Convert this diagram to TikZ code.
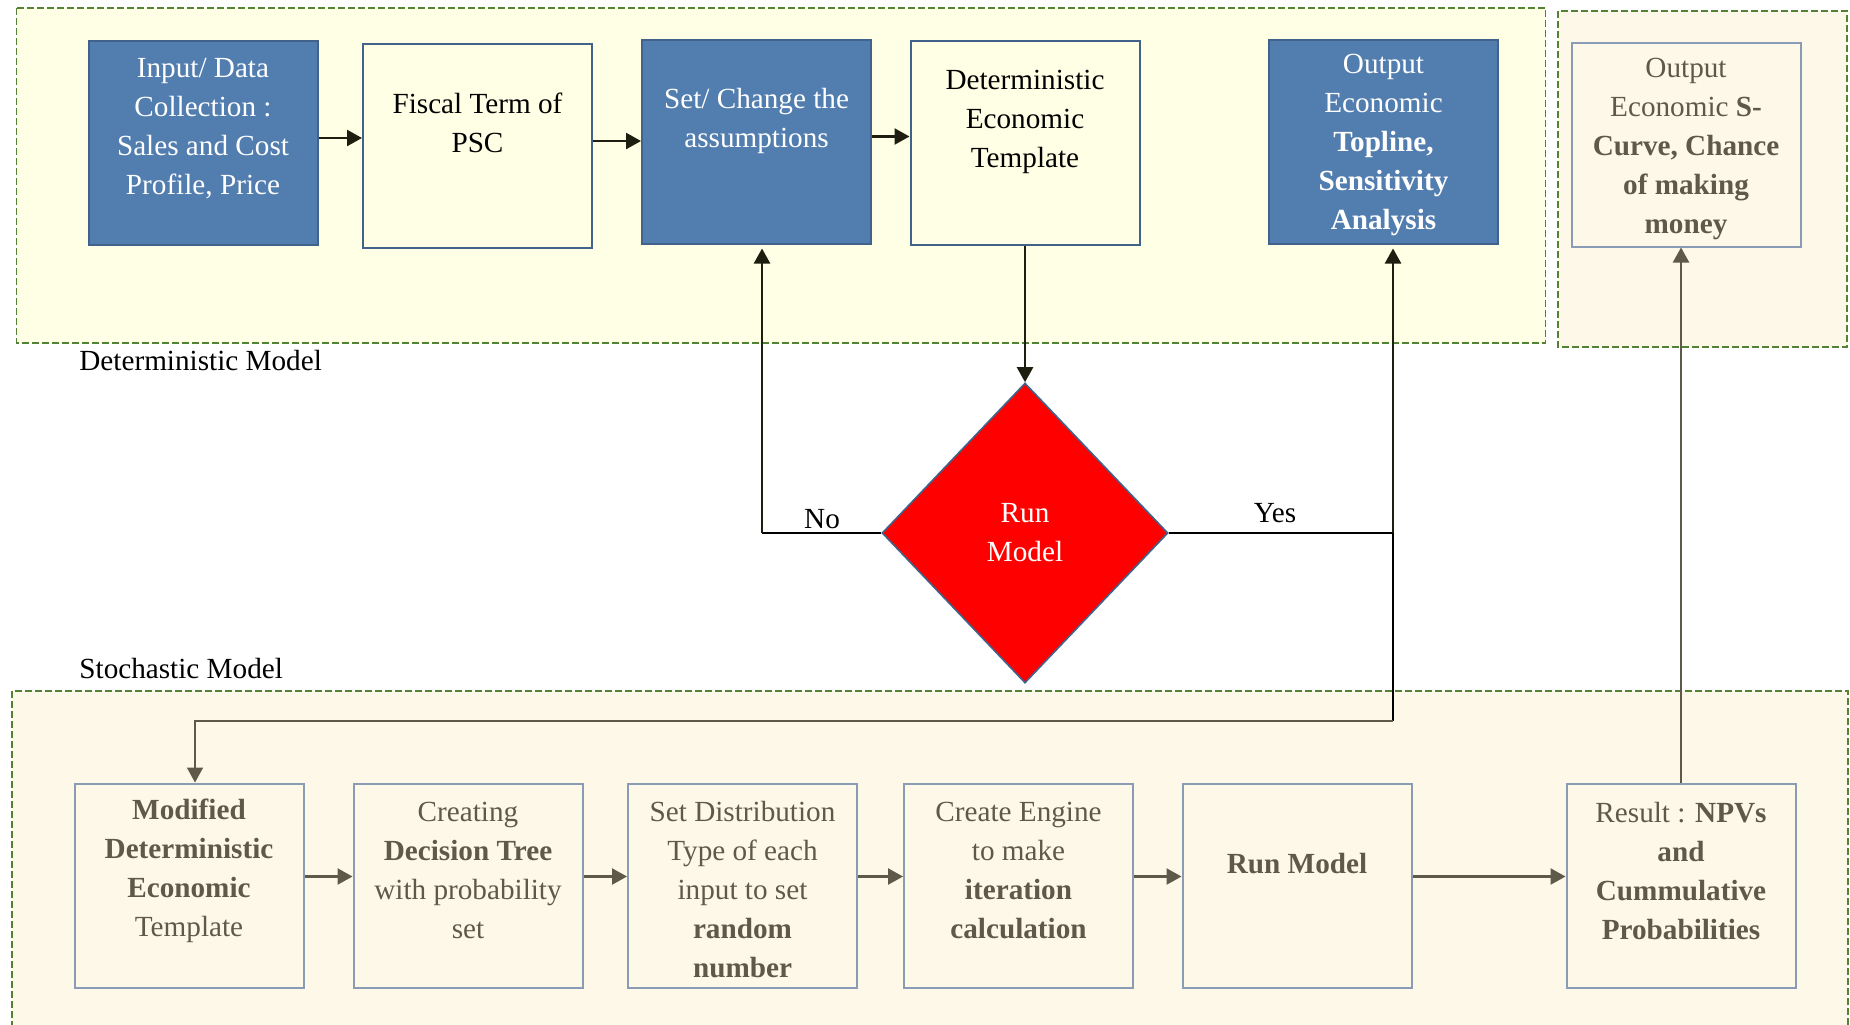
\documentclass[tikz,border=0pt]{standalone}
\usepackage{fontspec}
\setmainfont{Liberation Serif}
\usetikzlibrary{arrows.meta,shapes.geometric}
\definecolor{regyellow}{HTML}{FFFFE5}
\definecolor{regcream}{HTML}{FEF8E8}
\definecolor{dashgreen}{HTML}{538234}
\definecolor{boxblue}{HTML}{527DAF}
\definecolor{blueedge}{HTML}{41628A}
\definecolor{grayedge}{HTML}{8A9BB5}
\definecolor{textgray}{HTML}{5E5A4A}
\definecolor{arrowdark}{HTML}{1E1E10}

\tikzset{
	txt/.style={font=\fontsize{14.6}{19.5}\selectfont, align=center, inner sep=0pt},
	region/.style={draw=dashgreen, line width=0.95pt, dash pattern=on 3.5pt off 1.5pt},
	boxbase/.style={rectangle, minimum width=114.5pt, minimum height=102pt, inner sep=0pt, line width=1pt},
	bluebox/.style={boxbase, fill=boxblue, draw=blueedge},
	whitebox/.style={boxbase, fill=regyellow, draw=blueedge},
	graybox/.style={boxbase, fill=regcream, draw=grayedge},
	darkarrow/.style={draw=arrowdark, line width=1.2pt, -{Triangle[length=7.5pt,width=8pt]}},
	grayarrow/.style={draw=textgray, line width=1.2pt, -{Triangle[length=7.5pt,width=8pt]}},
	thinline/.style={draw=black, line width=0.6pt},
}

\begin{document}
\begin{tikzpicture}[x=0.5pt,y=-0.5pt]
\clip (0,0) rectangle (1850,1024);
\fill[white] (0,0) rectangle (1850,1024);

% model regions
\filldraw[region, fill=regyellow] (16.5,8) rectangle (1545.5,343);
\filldraw[region, fill=regcream] (1558,11) rectangle (1847,347);
\filldraw[region, fill=regcream] (12,691) rectangle (1848,1040);

\node[txt, anchor=west] (detlabel) at (79,361) {Deterministic Model};
\node[txt, anchor=west] (stolabel) at (79,668) {Stochastic Model};

% boxes: name/x/y/text shift/style/text colour/text
\foreach \name/\x/\y/\dy/\sty/\tcol/\txt in {
	input/203/143/-14.5/bluebox/white/{Input/ Data\\Collection :\\Sales and Cost\\Profile, Price},
	fiscal/477.5/146/-23/whitebox/black/{Fiscal Term of\\PSC},
	setchg/756.5/141.5/-21/bluebox/white/{Set/ Change the\\assumptions},
	dettmp/1025/143/-21.5/whitebox/black/{Deterministic\\Economic\\Template},
	topline/1383.5/141.5/3.5/bluebox/white/{Output\\Economic\\\textbf{Topline,}\\\textbf{Sensitivity}\\\textbf{Analysis}},
	scurve/1686/144.5/4/graybox/textgray/{Output\\Economic \textbf{S-}\\\textbf{Curve, Chance}\\\textbf{of making}\\\textbf{money}},
	modif/189/885.5/-15/graybox/textgray/{\textbf{Modified}\\\textbf{Deterministic}\\\textbf{Economic}\\Template},
	creat/468/885.5/-15/graybox/textgray/{Creating\\\textbf{Decision Tree}\\with probability\\set},
	setdist/742.5/885.5/4.5/graybox/textgray/{Set Distribution\\Type of each\\input to set\\\textbf{random}\\\textbf{number}},
	engine/1018.5/885.5/-15/graybox/textgray/{Create Engine\\to make\\\textbf{iteration}\\\textbf{calculation}},
	runmod/1297/885.5/-21.5/graybox/textgray/{\textbf{Run Model}},
	result/1681/885.5/-15/graybox/textgray/{Result : \textbf{NPVs}\\\textbf{and}\\\textbf{Cummulative}\\\textbf{Probabilities}}%
	}{
	\node[\sty] (\name) at (\x,\y) {};
	\node[txt, text=\tcol] (\name-txt) at ({\x},{\y+(\dy)}) {\txt};
	}

\node[diamond, fill=red, draw=blueedge, line width=0.8pt, minimum width=143pt, minimum height=150pt, txt, text=white] (run) at (1025,533) {Run\\Model};

\foreach \a/\b in {input/fiscal, fiscal/setchg, setchg/dettmp}
	\draw[darkarrow] ([yshift=2.5pt]\a.east) -- ([yshift=2.5pt]\a.east -| \b.west);
\foreach \a/\b in {modif/creat, creat/setdist, setdist/engine, engine/runmod, runmod/result}
	\draw[grayarrow] ([yshift=4.5pt]\a.east) -- ([yshift=4.5pt]\a.east -| \b.west);

\draw[darkarrow] (dettmp.south) -- (run.north);

% decision branches
\coordinate (nocorner) at (762,533);
\coordinate (yescorner) at (1393,533);
\coordinate (loopleft) at (195,721);
\draw[thinline] (run.west) -- (nocorner);
\draw[darkarrow, shorten >=2pt] (nocorner) -- (setchg.south -| nocorner);
\draw[thinline] (run.east) -- (yescorner);
\draw[darkarrow, shorten >=2pt] (yescorner) -- (topline.south -| yescorner);
\draw[thinline] (yescorner) -- (yescorner |- loopleft);
\draw[grayarrow, line width=0.8pt] (yescorner |- loopleft) -- (loopleft) -- (modif.north -| loopleft);
\draw[grayarrow] (result.north) -- (result.north |- scurve.south);

\node[txt] (nolabel) at (822,519) {No};
\node[txt] (yeslabel) at (1275,513) {Yes};
\end{tikzpicture}
\end{document}
